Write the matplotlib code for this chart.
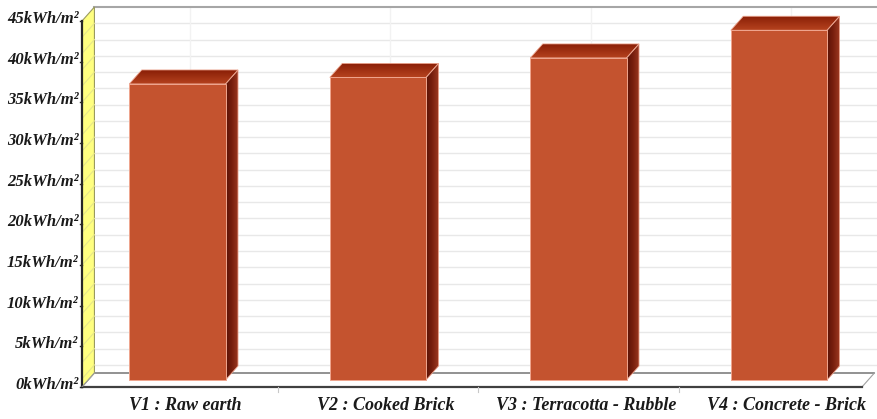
import numpy as np
import matplotlib.pyplot as plt
from matplotlib.patches import Polygon
from matplotlib.colors import LinearSegmentedColormap

categories = ['V1 : Raw earth', 'V2 : Cooked Brick',
              'V3 : Terracotta - Rubble', 'V4 : Concrete - Brick']
values = [36.4, 37.2, 39.6, 43.0]
y_ticks = [0, 5, 10, 15, 20, 25, 30, 35, 40, 45]
y_max = 45

# pseudo-3D geometry, in data units (x: category index, y: kWh/m²)
DX, DY = 0.062, 1.72          # depth offset of the back plane
HALF_W = 0.24                 # half bar width
WALL_X = -0.476               # front edge of the side wall
FLOOR_END = 3.414             # right end of the floor

front_col = '#C4532F'
top_cmap = LinearSegmentedColormap.from_list('top', ['#B5421E', '#8A1F07'])
side_cmap = LinearSegmentedColormap.from_list('side', ['#5A1206', '#7A200E', '#9E3A22'])

fig = plt.figure(figsize=(8.78, 4.19), dpi=100)
ax = fig.add_axes([0, 0, 1, 1])
ax.set_xlim(-0.885, 3.494)
ax.set_ylim(-3.935, 47.58)
ax.axis('off')

# back wall gridlines
bx0 = WALL_X + DX
for g in np.arange(1, y_max, 2):
    ax.plot([bx0, 3.6], [g + DY, g + DY], color='#E8E8E8', lw=1, zorder=1)
for i in range(len(categories)):
    ax.plot([i + DX, i + DX], [DY, y_max + DY], color='#F2F2F2', lw=1, zorder=1)

# back wall frame and floor
ax.plot([bx0, 3.6], [y_max + DY, y_max + DY], color='#A6A6A6', lw=1.5, zorder=2)
ax.plot([bx0, FLOOR_END + DX], [DY, DY], color='#7F7F7F', lw=1.2, zorder=2)
ax.plot([FLOOR_END, FLOOR_END + DX], [0, DY], color='#A0A0A0', lw=0.8, zorder=2)

# side wall
wall = Polygon([(WALL_X, 0), (WALL_X, y_max), (bx0, y_max + DY), (bx0, DY)],
               closed=True, facecolor='#FFFF80', edgecolor='#9A9A60', lw=0.8, zorder=2)
ax.add_patch(wall)
for g in np.arange(1, y_max, 2):
    ax.plot([WALL_X, bx0], [g, g + DY], color='#E6E68A', lw=0.8, zorder=3)

# front axis line, floor edge and ticks
ax.plot([WALL_X, WALL_X], [0, y_max], color='#262626', lw=1.6, zorder=4)
ax.plot([WALL_X, FLOOR_END], [0, 0], color='#404040', lw=1.6, zorder=4)
ax.plot([WALL_X, bx0], [0, DY], color='#A0A0A0', lw=0.8, zorder=4)
for t in y_ticks:
    ax.plot([WALL_X - 0.012, WALL_X], [t, t], color='#262626', lw=1, zorder=4)
    ax.text(WALL_X - 0.018, t + 0.25, f'{t}kWh/m²', ha='right', va='center',
            fontsize=12, fontweight='bold', fontstyle='italic',
            family='Liberation Serif', color='#1A1A1A')
for b in [0.5, 1.5, 2.5]:
    ax.plot([b, b], [0, -0.6], color='#C8C8C8', lw=0.8, zorder=4)


def gradient_fill(poly, cmap, horizontal):
    xs = [p[0] for p in poly.get_xy()]
    ys = [p[1] for p in poly.get_xy()]
    grad = np.linspace(0, 1, 64)
    img = grad[np.newaxis, :] if horizontal else grad[:, np.newaxis]
    im = ax.imshow(img, cmap=cmap, aspect='auto', interpolation='bilinear',
                   extent=[min(xs), max(xs), min(ys), max(ys)], origin='lower', zorder=5)
    im.set_clip_path(poly)


# bars
base = DY / 2
for i, v in enumerate(values):
    l, r = i - HALF_W, i + HALF_W
    top = base + v
    front = Polygon([(l, base), (r, base), (r, top), (l, top)], closed=True,
                    facecolor=front_col, edgecolor='#EFA58E', lw=0.7, zorder=6)
    top_face = Polygon([(l, top), (r, top), (r + DX, top + DY), (l + DX, top + DY)],
                       closed=True, facecolor='none', edgecolor='#E9A08A', lw=0.6, zorder=6)
    side = Polygon([(r, base), (r + DX, base + DY), (r + DX, top + DY), (r, top)],
                   closed=True, facecolor='none', edgecolor='#E9A08A', lw=0.6, zorder=6)
    for p in (top_face, side):
        ax.add_patch(p)
    gradient_fill(top_face, top_cmap, horizontal=False)
    gradient_fill(side, side_cmap, horizontal=True)
    ax.add_patch(front)

    ax.text(i + 0.04, -2.25, categories[i], ha='center', va='center',
            fontsize=13, fontweight='bold', fontstyle='italic',
            family='Liberation Serif', color='#1A1A1A')

fig.savefig('out.png', dpi=100, facecolor='white')
